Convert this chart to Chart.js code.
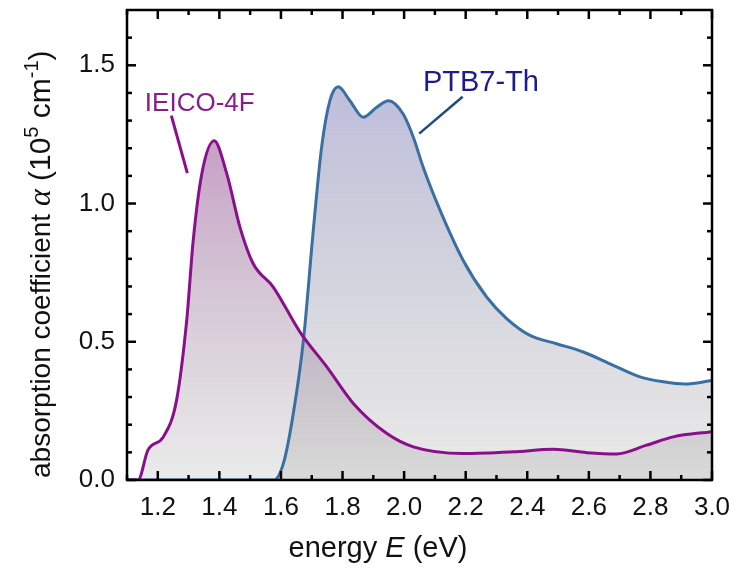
<!DOCTYPE html>
<html>
<head>
<meta charset="utf-8">
<script src="https://cdn.jsdelivr.net/npm/chart.js@4.4.1/dist/chart.umd.min.js"></script>
<style>
  html, body { margin: 0; padding: 0; background: #ffffff; }
  #c { display: block; }
</style>
</head>
<body>
<canvas id="c" width="734" height="568"></canvas>
<script>
// ---- data (energy in eV, absorption coefficient in 1e5 cm^-1) ----
const ieicoEnergy = [1.10, 1.136, 1.168, 1.218, 1.261, 1.294, 1.315, 1.343, 1.383, 1.424, 1.467, 1.510, 1.575, 1.662, 1.749, 1.835, 1.943, 2.030, 2.192, 2.355, 2.485, 2.593, 2.690, 2.788, 2.874, 3.00];
const ieicoAlpha  = [0.00, 0.00, 0.108, 0.156, 0.289, 0.578, 0.866, 1.108, 1.227, 1.108, 0.914, 0.782, 0.698, 0.535, 0.409, 0.277, 0.169, 0.120, 0.096, 0.102, 0.111, 0.099, 0.094, 0.126, 0.156, 0.175];

const ptbEnergy = [1.10, 1.577, 1.608, 1.640, 1.673, 1.705, 1.732, 1.759, 1.786, 1.824, 1.867, 1.911, 1.949, 1.997, 2.030, 2.062, 2.117, 2.192, 2.268, 2.333, 2.409, 2.495, 2.582, 2.679, 2.766, 2.842, 2.912, 3.00];
const ptbAlpha  = [0.00, 0.00, 0.06, 0.24, 0.505, 0.903, 1.203, 1.372, 1.422, 1.372, 1.312, 1.348, 1.372, 1.324, 1.24, 1.131, 0.975, 0.794, 0.662, 0.584, 0.523, 0.493, 0.463, 0.415, 0.373, 0.355, 0.347, 0.360];

const seriesNames = ["IEICO-4F", "PTB7-Th"];
const xTicks = [1.2, 1.4, 1.6, 1.8, 2.0, 2.2, 2.4, 2.6, 2.8, 3.0];
const xMinorTicks = [1.1, 1.3, 1.5, 1.7, 1.9, 2.1, 2.3, 2.5, 2.7, 2.9];
const yTicks = [0.0, 0.5, 1.0, 1.5];
const yMinorTicks = [0.1, 0.2, 0.3, 0.4, 0.6, 0.7, 0.8, 0.9, 1.1, 1.2, 1.3, 1.4, 1.6];
const xRange = [1.1, 3.0];
const yRange = [0, 1.7];

// label / pointer anchors in data coordinates
const ieicoLabelAt = [1.158, 1.335];
const ieicoPointer = [[1.244, 1.318], [1.296, 1.110]];
const ptbLabelAt = [2.061, 1.408];
const ptbPointer = [[2.190, 1.386], [2.049, 1.253]];

function pts(xs, ys) { return xs.map((v, i) => ({ x: v, y: ys[i] })); }

const FONT = "'Liberation Sans', Arial, 'DejaVu Sans', sans-serif";

function makeGrad(chart, peak, top, bottom) {
  const area = chart.chartArea;
  if (!area) return bottom;
  const ys = chart.scales.y;
  const g = chart.ctx.createLinearGradient(0, ys.getPixelForValue(peak), 0, ys.getPixelForValue(0));
  g.addColorStop(0, top);
  g.addColorStop(1, bottom);
  return g;
}

const decor = {
  id: 'decor',
  afterDraw(chart) {
    const { ctx, chartArea: a, scales: { x, y } } = chart;
    ctx.save();
    // ticks (inward, all four sides)
    ctx.strokeStyle = '#000';
    ctx.lineWidth = 2.5;
    const drawX = (vals, len) => vals.forEach(v => {
      const px = x.getPixelForValue(v);
      ctx.beginPath(); ctx.moveTo(px, a.bottom); ctx.lineTo(px, a.bottom - len); ctx.stroke();
      ctx.beginPath(); ctx.moveTo(px, a.top); ctx.lineTo(px, a.top + len); ctx.stroke();
    });
    const drawY = (vals, len) => vals.forEach(v => {
      const py = y.getPixelForValue(v);
      ctx.beginPath(); ctx.moveTo(a.left, py); ctx.lineTo(a.left + len, py); ctx.stroke();
      ctx.beginPath(); ctx.moveTo(a.right, py); ctx.lineTo(a.right - len, py); ctx.stroke();
    });
    drawX(xTicks, 9); drawX(xMinorTicks, 5);
    drawY(yTicks, 9); drawY(yMinorTicks, 5);
    // frame
    ctx.lineWidth = 2.5;
    ctx.strokeRect(a.left, a.top, a.right - a.left, a.bottom - a.top);

    // series labels + pointers
    ctx.lineCap = 'butt';
    ctx.strokeStyle = '#8b0f8b'; ctx.lineWidth = 3;
    ctx.beginPath();
    ctx.moveTo(x.getPixelForValue(ieicoPointer[0][0]), y.getPixelForValue(ieicoPointer[0][1]));
    ctx.lineTo(x.getPixelForValue(ieicoPointer[1][0]), y.getPixelForValue(ieicoPointer[1][1]));
    ctx.stroke();
    ctx.strokeStyle = '#1f4a7e'; ctx.lineWidth = 2.5;
    ctx.beginPath();
    ctx.moveTo(x.getPixelForValue(ptbPointer[0][0]), y.getPixelForValue(ptbPointer[0][1]));
    ctx.lineTo(x.getPixelForValue(ptbPointer[1][0]), y.getPixelForValue(ptbPointer[1][1]));
    ctx.stroke();

    ctx.textBaseline = 'alphabetic';
    ctx.textAlign = 'left';
    ctx.fillStyle = '#8b1a8b';
    ctx.font = '26px ' + FONT;
    ctx.fillText(seriesNames[0], x.getPixelForValue(ieicoLabelAt[0]), y.getPixelForValue(ieicoLabelAt[1]));
    ctx.fillStyle = '#1c1c8c';
    ctx.font = '29px ' + FONT;
    ctx.fillText(seriesNames[1], x.getPixelForValue(ptbLabelAt[0]), y.getPixelForValue(ptbLabelAt[1]));

    // axis titles with mixed styles
    const drawRuns = (runs, start, baseY) => {
      let pos = start;
      runs.forEach(r => {
        ctx.font = r.f;
        ctx.fillText(r.t, pos, baseY - (r.dy || 0));
        pos += ctx.measureText(r.t).width;
      });
    };
    const runsWidth = (runs) => {
      let w = 0;
      runs.forEach(r => { ctx.font = r.f; w += ctx.measureText(r.t).width; });
      return w;
    };
    ctx.fillStyle = '#111';
    const N = '29px ' + FONT, I = 'italic 29px ' + FONT;
    const xRuns = [{ t: 'energy ', f: N }, { t: 'E', f: I }, { t: ' (eV)', f: N }];
    drawRuns(xRuns, 378 - runsWidth(xRuns) / 2, 557);

    ctx.save();
    ctx.translate(50, 478);
    ctx.rotate(-Math.PI / 2);
    const YN = '28px ' + FONT, YB = '30px ' + FONT, YS = '20px ' + FONT,
          YA = "italic 32px 'Liberation Serif', 'DejaVu Serif', serif";
    drawRuns([
      { t: 'absorption coefficient ', f: YN },
      { t: 'α', f: YA },
      { t: ' (10', f: YB },
      { t: '5', f: YS, dy: 12 },
      { t: ' cm', f: YB },
      { t: '-1', f: YS, dy: 12 },
      { t: ')', f: YB }
    ], 0, 0);
    ctx.restore();
    ctx.restore();
  }
};

new Chart(document.getElementById('c'), {
  type: 'line',
  data: {
    datasets: [
      {
        label: seriesNames[0],
        data: pts(ieicoEnergy, ieicoAlpha),
        borderColor: '#8b0f8b',
        borderWidth: 3,
        pointRadius: 0,
        cubicInterpolationMode: 'monotone',
        fill: 'origin',
        backgroundColor: (c) => makeGrad(c.chart, 1.23, 'rgba(147,71,147,0.52)', 'rgba(128,128,128,0.16)')
      },
      {
        label: seriesNames[1],
        data: pts(ptbEnergy, ptbAlpha),
        borderColor: '#3a6fa3',
        borderWidth: 3,
        pointRadius: 0,
        cubicInterpolationMode: 'monotone',
        fill: 'origin',
        backgroundColor: (c) => makeGrad(c.chart, 1.42, 'rgba(125,125,185,0.5)', 'rgba(128,128,128,0.16)')
      }
    ]
  },
  options: {
    responsive: false,
    animation: false,
    devicePixelRatio: 1,
    layout: { padding: { left: 0, top: 10, right: 22, bottom: 0 } },
    plugins: {
      legend: { display: false },
      tooltip: { enabled: false },
      filler: { drawTime: 'beforeDatasetsDraw' }
    },
    scales: {
      x: {
        type: 'linear',
        min: xRange[0], max: xRange[1],
        afterBuildTicks: (s) => { s.ticks = xTicks.map(v => ({ value: v })); },
        afterFit: (s) => { s.height = 88; s.paddingLeft = 0; s.paddingRight = 0; },
        grid: { display: false, drawTicks: false },
        border: { display: false },
        ticks: {
          font: { family: FONT, size: 26 },
          color: '#111',
          padding: 12,
          maxRotation: 0,
          autoSkip: false,
          callback: (v) => Number(v).toFixed(1)
        }
      },
      y: {
        type: 'linear',
        min: yRange[0], max: yRange[1],
        afterBuildTicks: (s) => { s.ticks = yTicks.map(v => ({ value: v })); },
        afterFit: (s) => { s.width = 127; s.paddingTop = 0; s.paddingBottom = 0; },
        grid: { display: false, drawTicks: false },
        border: { display: false },
        ticks: {
          font: { family: FONT, size: 26 },
          color: '#111',
          padding: 12,
          autoSkip: false,
          callback: (v) => Number(v).toFixed(1)
        }
      }
    }
  },
  plugins: [decor]
});
</script>
</body>
</html>
